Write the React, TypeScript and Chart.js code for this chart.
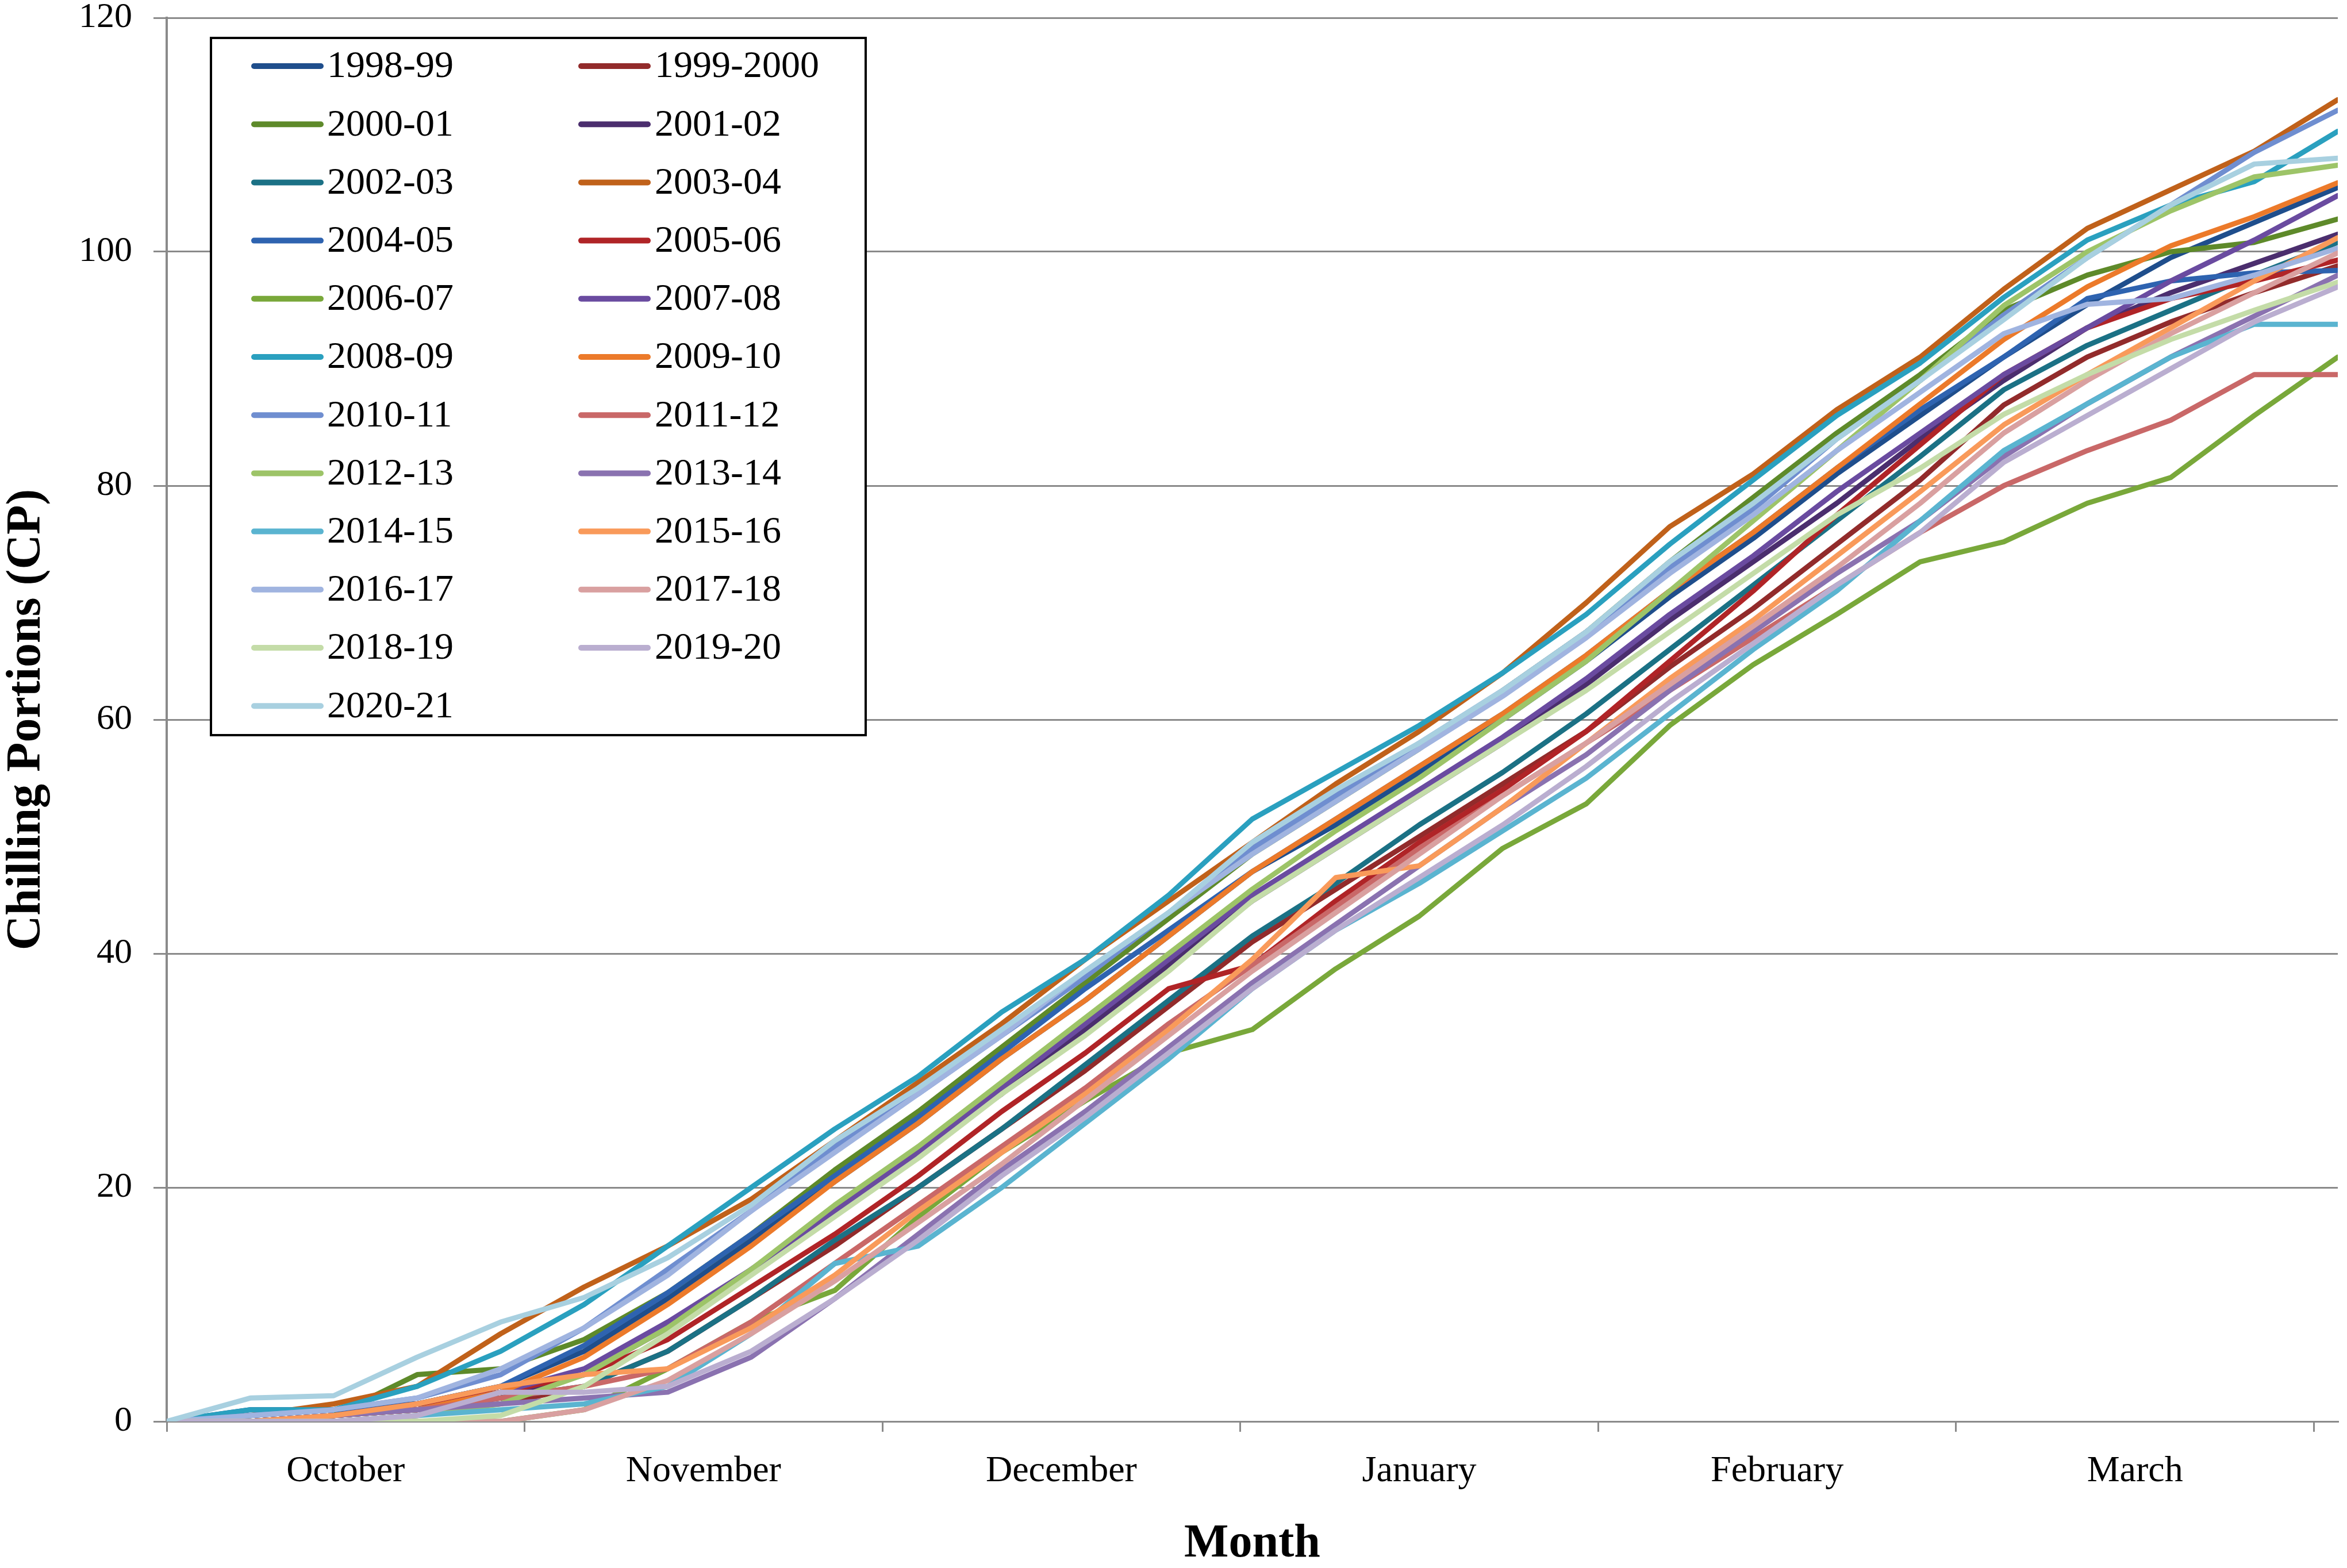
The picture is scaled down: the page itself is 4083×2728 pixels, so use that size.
import React, { useEffect, useRef } from 'react';
import { Chart, registerables } from 'chart.js';

Chart.register(...registerables);

// ---------- data ----------
const seasons = [
  '1998-99', '1999-2000', '2000-01', '2001-02', '2002-03', '2003-04',
  '2004-05', '2005-06', '2006-07', '2007-08', '2008-09', '2009-10',
  '2010-11', '2011-12', '2012-13', '2013-14', '2014-15', '2015-16',
  '2016-17', '2017-18', '2018-19', '2019-20', '2020-21',
];

// days since 1 October
const days = [0, 7, 14, 21, 28, 35, 42, 49, 56, 63, 70, 77, 84, 91, 98, 105, 112, 119, 126, 133, 140, 147, 154, 161, 168, 175, 182];

const monthLabels = ['October', 'November', 'December', 'January', 'February', 'March'];

const v1998_99 = [0, 1, 1, 1.5, 3, 6, 10.5, 15.5, 20.5, 25.5, 31, 36, 41.5, 47, 51, 55.5, 60, 65, 70.5, 75.5, 81, 86, 91, 95.5, 99.5, 102.5, 105.5];
const v1999_2000 = [0, 0, 0.5, 1, 1.5, 3, 6, 10.5, 15, 20, 25, 30, 35.5, 41, 45.5, 50, 54.5, 59, 64.5, 69.5, 75, 80.5, 86.9, 91, 94, 96.5, 98.8];
const v2000_01 = [0, 0, 0.5, 4, 4.5, 7, 11, 16, 21.5, 26.5, 32, 37.5, 43, 48.5, 53, 57.5, 62.5, 67.5, 73.5, 79, 84.5, 89.5, 95, 98, 100, 100.8, 102.8];
const v2001_02 = [0, 0, 0.5, 1, 2, 4, 8, 13, 18, 23, 28, 33.5, 39, 44.5, 49, 53.5, 58, 63, 68.5, 73.5, 78.5, 84, 89, 93.5, 96.5, 99, 101.5];
const v2002_03 = [0, 0.5, 1, 1.5, 2, 3, 6, 10.5, 15.5, 20, 25, 30.5, 36, 41.5, 46, 51, 55.5, 60.5, 66, 71.5, 77, 82.5, 88.2, 92, 95, 98, 100.8];
const v2003_04 = [0, 0.5, 1.5, 3, 7.5, 11.5, 15, 19, 24, 29, 34, 39.5, 44.5, 49.5, 54.5, 59, 64, 70, 76.5, 81, 86.5, 91, 96.8, 102, 105.3, 108.6, 113];
const v2004_05 = [0, 0.5, 1, 1.5, 3, 6.5, 11, 16, 21, 26, 31.5, 37, 42, 47, 51.5, 56, 60.5, 65.5, 71, 76, 81.5, 86.5, 91, 96, 97.5, 98.2, 98.4];
const v2005_06 = [0, 0, 0.5, 1.5, 2.5, 4, 7, 11.5, 16, 21, 26.5, 31.5, 37, 39, 44.5, 49.5, 54, 59, 65, 71, 77.5, 83.5, 89.5, 93.5, 96, 97.5, 99.3];
const v2006_07 = [0, 0, 0, 0, 0, 1, 4.5, 8.5, 11.2, 17.5, 23, 27.4, 31.5, 33.5, 38.7, 43.2, 49, 52.8, 59.5, 64.7, 69, 73.5, 75.2, 78.5, 80.7, 86, 91];
const v2007_08 = [0, 0, 0.5, 1, 2.5, 4.5, 8.5, 13, 18, 23, 28.5, 34, 39.5, 45, 49.5, 54, 58.5, 63.5, 69, 74, 79.5, 84.5, 89.5, 93.5, 97.5, 101, 104.8];
const v2008_09 = [0, 1, 1, 3, 6, 10, 15, 20, 25, 29.5, 35, 39.5, 45, 51.5, 55.5, 59.5, 64, 69, 75, 80.5, 86, 90.5, 96.1, 101, 104, 106, 110.3];
const v2009_10 = [0, 0, 0.5, 1, 2.5, 5.5, 10, 15, 20.5, 25.5, 31, 36, 41.5, 47, 51.5, 56, 60.5, 65.5, 71, 76, 81.5, 87, 92.5, 97, 100.5, 103, 105.9];
const v2010_11 = [0, 0.5, 1, 2, 4, 8, 13, 18, 23.5, 28, 33, 38, 43.5, 49, 53.5, 58, 62.5, 67.5, 73, 78, 84, 89, 94.6, 99.5, 104, 108.5, 112.1];
const v2011_12 = [0, 0, 0.5, 1, 2, 3, 4.5, 8.5, 13.5, 18.5, 23.5, 28.5, 34, 39, 44, 49, 53.5, 58, 62.5, 67, 71.5, 76, 80, 83, 85.6, 89.5, 89.5];
const v2012_13 = [0, 0, 0, 0.5, 1.5, 4, 8, 13, 18.5, 23.5, 29, 34.5, 40, 45.5, 50.5, 55, 60, 65, 71, 77, 83, 89, 95.4, 100, 103.5, 106.4, 107.4];
const v2013_14 = [0, 0, 0.5, 1, 1.5, 2, 2.5, 5.5, 10.5, 16, 21.5, 26.5, 32, 37.5, 42.5, 47.5, 52.5, 57, 62.5, 67.5, 72.5, 77, 82.5, 87, 91, 94.5, 98];
const v2014_15 = [0, 0, 0, 0.5, 1, 1.5, 3, 7.5, 13.5, 15, 20, 25.5, 31, 37, 42, 46, 50.5, 55, 60.5, 66, 71, 77, 83, 87, 91, 93.8, 93.8];
const v2015_16 = [0, 0, 0.5, 1.5, 3, 4, 4.5, 8, 12.5, 18, 23, 28, 33.5, 39.5, 46.5, 47.5, 52.5, 58, 63.5, 68.5, 74, 79.5, 85.2, 89.5, 93.5, 97.5, 101.2];
const v2016_17 = [0, 0.5, 1, 2, 4.5, 8, 12.5, 18, 23, 28, 33, 38.5, 43.5, 48.5, 53, 57.5, 62, 67, 72.5, 77.5, 83, 88, 93, 95.5, 96, 98, 100.3];
const v2017_18 = [0, 0, 0, 0, 0, 1, 3.5, 7.5, 12, 17, 22, 27.5, 33, 38.5, 43.5, 48.5, 53.5, 58, 63, 68, 73, 78.5, 84.5, 89, 93, 96.5, 99.9];
const v2018_19 = [0, 0, 0, 0, 0.5, 3, 7.5, 12.5, 17.5, 22.5, 28, 33, 38.5, 44.5, 49, 53.5, 58, 62.5, 67.5, 72.5, 77.5, 81.5, 86.1, 89.5, 92.5, 95, 97.4];
const v2019_20 = [0, 0, 0, 0.5, 2.5, 2.5, 3, 6, 10.5, 15.5, 21, 26, 31.5, 37, 42, 46.5, 51, 56, 61.5, 66.5, 71.5, 76, 82, 86, 90, 94, 97];
const v2020_21 = [0, 2, 2.2, 5.5, 8.5, 10.6, 14, 18.5, 24, 28.5, 33.5, 38.5, 43.5, 49.5, 54, 58, 62.5, 67.5, 73.5, 78.5, 84, 89, 94.2, 99.5, 104, 107.5, 108];

const seriesValues = [
  v1998_99, v1999_2000, v2000_01, v2001_02, v2002_03, v2003_04,
  v2004_05, v2005_06, v2006_07, v2007_08, v2008_09, v2009_10,
  v2010_11, v2011_12, v2012_13, v2013_14, v2014_15, v2015_16,
  v2016_17, v2017_18, v2018_19, v2019_20, v2020_21,
];

const seriesColors = [
  '#1f4e8c', '#922b2b', '#5e8a2a', '#4b2e6e', '#1b7185', '#c0611a',
  '#2e63b0', '#b02427', '#79a83a', '#6a4ba0', '#2aa0bf', '#ec7a2a',
  '#6f8ed0', '#c96868', '#9dc468', '#8a72b0', '#5ab4d0', '#f99a5a',
  '#a0b4e0', '#d9a0a0', '#c4dca8', '#baaed0', '#a8d0e0',
];

// ---------- styling ----------
const FONT = "'Liberation Serif', 'Times New Roman', serif";
const GRAY = '#8a8a8a';
const W = 4083;
const H = 2728;

const boxLegend = {
  id: 'boxLegend',
  afterDraw(chart: any) {
    const ctx = chart.ctx as CanvasRenderingContext2D;
    const bx = 367, by = 66, bw = 1139, bh = 1213;
    ctx.save();
    ctx.fillStyle = '#ffffff';
    ctx.fillRect(bx, by, bw, bh);
    ctx.lineWidth = 4;
    ctx.strokeStyle = '#000000';
    ctx.strokeRect(bx, by, bw, bh);
    ctx.font = `66px ${FONT}`;
    ctx.textBaseline = 'middle';
    ctx.textAlign = 'left';
    chart.data.datasets.forEach((ds: any, i: number) => {
      const col = i % 2;
      const row = Math.floor(i / 2);
      const y = 115 + row * 101.2;
      const lx = col === 0 ? 442 : 1011;
      const tx = col === 0 ? 569 : 1139;
      ctx.strokeStyle = ds.borderColor;
      ctx.lineWidth = 10;
      ctx.lineCap = 'round';
      ctx.beginPath();
      ctx.moveTo(lx, y);
      ctx.lineTo(lx + 116, y);
      ctx.stroke();
      ctx.fillStyle = '#000000';
      ctx.fillText(ds.label, tx, y + 2);
    });
    ctx.restore();
  },
};

export default function App() {
  const canvasRef = useRef<HTMLCanvasElement | null>(null);

  useEffect(() => {
    const canvas = canvasRef.current;
    if (!canvas) return;
    const n = seasons.length;
    const datasets = seasons.map((label, i) => ({
      label,
      data: days.map((d, k) => ({ x: d, y: seriesValues[i][k] })),
      borderColor: seriesColors[i],
      backgroundColor: seriesColors[i],
      borderWidth: 9,
      pointRadius: 0,
      pointHoverRadius: 0,
      fill: false,
      tension: 0,
      borderJoinStyle: 'round' as const,
      borderCapStyle: 'round' as const,
      order: n - i,
    }));

    const chart = new Chart(canvas, {
      type: 'line',
      data: { datasets },
      plugins: [boxLegend],
      options: {
        animation: false,
        responsive: false,
        devicePixelRatio: 1,
        layout: { padding: { left: 0, right: 16, top: 31, bottom: 0 } },
        plugins: {
          legend: { display: false },
          tooltip: { enabled: false },
        },
        scales: {
          x: {
            type: 'linear',
            min: 0,
            max: 182,
            afterBuildTicks: (scale: any) => {
              const t = [];
              for (let v = 0; v <= 180; v += 15) t.push({ value: v });
              scale.ticks = t;
            },
            afterFit: (scale: any) => {
              scale.height = 255;
              scale.paddingLeft = 0;
              scale.paddingRight = 0;
            },
            ticks: {
              autoSkip: false,
              maxRotation: 0,
              minRotation: 0,
              padding: 31,
              color: '#000000',
              font: { family: FONT, size: 64 },
              callback: (value: any) => {
                const v = Number(value);
                return v % 30 === 15 ? monthLabels[(v - 15) / 30] : '';
              },
            },
            grid: {
              drawOnChartArea: false,
              drawTicks: true,
              tickLength: 18,
              lineWidth: 3,
              color: (ctx: any) =>
                ctx.tick && ctx.tick.value % 30 === 0 ? GRAY : 'rgba(0,0,0,0)',
            },
            border: { display: true, color: GRAY, width: 3 },
            title: {
              display: true,
              text: 'Month',
              color: '#000000',
              font: { family: FONT, size: 82, weight: 'bold', lineHeight: 1 },
              padding: { top: 0, bottom: 0 },
            },
          },
          y: {
            type: 'linear',
            min: 0,
            max: 120,
            afterFit: (scale: any) => {
              scale.width = 290;
              scale.paddingTop = 0;
              scale.paddingBottom = 0;
            },
            ticks: {
              stepSize: 20,
              padding: 37,
              color: '#000000',
              font: { family: FONT, size: 62 },
            },
            grid: {
              color: GRAY,
              lineWidth: 3,
              drawTicks: true,
              tickLength: 23,
            },
            border: { display: true, color: GRAY, width: 4 },
            title: {
              display: true,
              text: 'Chilling Portions (CP)',
              color: '#000000',
              font: { family: FONT, size: 84, weight: 'bold', lineHeight: 1 },
              padding: { top: 5, bottom: 0 },
            },
          },
        },
      },
    } as any);

    return () => {
      chart.destroy();
    };
  }, []);

  return (
    <div
      style={{
        position: 'fixed',
        left: 0,
        top: 0,
        width: W,
        height: H,
        background: '#ffffff',
        overflow: 'hidden',
      }}
    >
      <canvas
        ref={canvasRef}
        width={W}
        height={H}
        style={{ display: 'block', width: W, height: H }}
      />
    </div>
  );
}
